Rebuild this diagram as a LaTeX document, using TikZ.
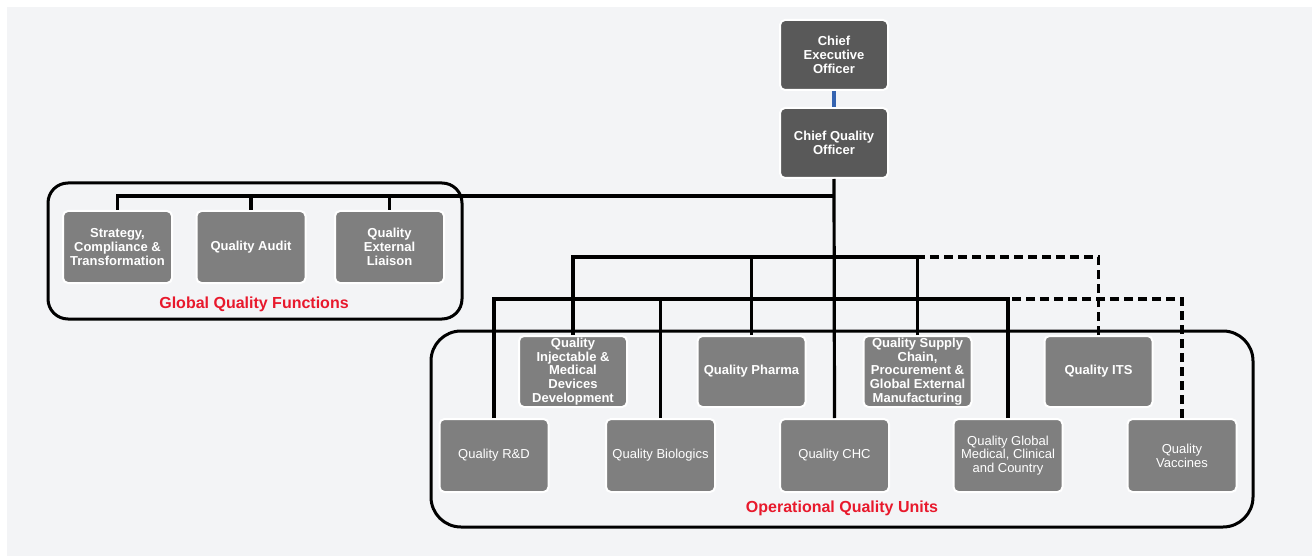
\documentclass[tikz,border=0pt]{standalone}
\usepackage{fontspec}
\setmainfont{Liberation Sans}
\definecolor{bg}{HTML}{F3F4F6}
\definecolor{boxgray}{HTML}{7F7F7F}
\definecolor{darkbox}{HTML}{595959}
\definecolor{lblred}{HTML}{E8192C}
\definecolor{linkblue}{HTML}{3563B0}
\begin{document}
\begin{tikzpicture}[x=1pt,y=-1pt,
  unitbox/.style={rectangle, rounded corners=5, fill=boxgray, draw=white, line width=2,
    minimum width=109, minimum height=72, text=white, align=center, inner sep=0,
    font=\fontsize{13}{13.8}\selectfont\bfseries},
  plainbox/.style={unitbox, font=\fontsize{13}{13.8}\selectfont},
  topbox/.style={unitbox, fill=darkbox, minimum width=108, minimum height=70},
  groupbox/.style={rectangle, draw=black, line width=3, fill=none},
  conn/.style={draw=black, line width=3.2, line join=miter},
  dotconn/.style={conn, dash pattern=on 9pt off 5pt},
  grouplbl/.style={text=lblred, font=\fontsize{16}{18}\selectfont\bfseries, inner sep=0}
]
\useasboundingbox (0,0) rectangle (1312,556);
\fill[white] (0,0) rectangle (1312,556);
\fill[bg] (7,7) rectangle (1312,556);

% groups
\node[groupbox, rounded corners=20, minimum width=414, minimum height=136] (gqf) at (255,251) {};
\node[groupbox, rounded corners=30, minimum width=822, minimum height=196] (oqu) at (842,429) {};

% bus coordinates
\coordinate (gbus) at (834,196);
\coordinate (bus1) at (834,257);
\coordinate (bus2) at (834,299);

% nodes
\node[topbox] (ceo) at (834,55) {Chief\\Executive\\Officer};
\node[topbox] (cqo) at (834,143) {Chief Quality\\Officer};

\node[unitbox] (strat) at (117.5,247) {Strategy,\\Compliance \&\\Transformation};
\node[unitbox] (audit) at (251,247) {Quality Audit};
\node[unitbox] (ext) at (389.5,247) {Quality\\External\\Liaison};

\node[unitbox, minimum width=108, minimum height=71] (inj) at (573,371.5) {Quality\\Injectable \&\\Medical\\Devices\\Development};
\node[unitbox, minimum width=108, minimum height=71] (pharma) at (751.5,371.5) {Quality Pharma};
\node[unitbox, minimum width=108, minimum height=71] (supply) at (917.5,371.5) {Quality Supply\\Chain,\\Procurement \&\\Global External\\Manufacturing};
\node[unitbox, minimum width=108, minimum height=71] (its) at (1098.5,371.5) {Quality ITS};

\node[plainbox, minimum height=73] (rd) at (494,455.5) {Quality R\&D};
\node[plainbox, minimum height=73] (bio) at (660.5,455.5) {Quality Biologics};
\node[plainbox, minimum height=73] (chc) at (834.5,455.5) {Quality CHC};
\node[plainbox, minimum height=73] (gmed) at (1008,455.5) {Quality Global\\Medical, Clinical\\and Country};
\node[plainbox, minimum height=73] (vac) at (1182,455.5) {Quality\\Vaccines};

% labels
\node[grouplbl] (gqfl) at (254,304) {Global Quality Functions};
\node[grouplbl] (oqul) at (842,508) {Operational Quality Units};

% connectors
\draw[draw=linkblue, line width=3.2] (ceo.south) -- (cqo.north);
\draw[conn] (cqo.south) -- (chc.north);
\draw[conn] (strat.north) |- (gbus);
\draw[conn] (audit.north) -- (audit.north |- gbus);
\draw[conn] (ext.north) -- (ext.north |- gbus);

\draw[conn] (inj.north) |- (bus1);
\draw[conn] (pharma.north) -- (pharma.north |- bus1);
\draw[conn] (supply.north) |- (bus1);
\draw[dotconn] (its.north) |- (supply.north |- bus1);

\draw[conn] (rd.north) |- (bus2);
\draw[conn] (bio.north) -- (bio.north |- bus2);
\draw[conn] (gmed.north) |- (bus2);
\draw[dotconn] (vac.north) |- (gmed.north |- bus2);
\end{tikzpicture}
\end{document}
